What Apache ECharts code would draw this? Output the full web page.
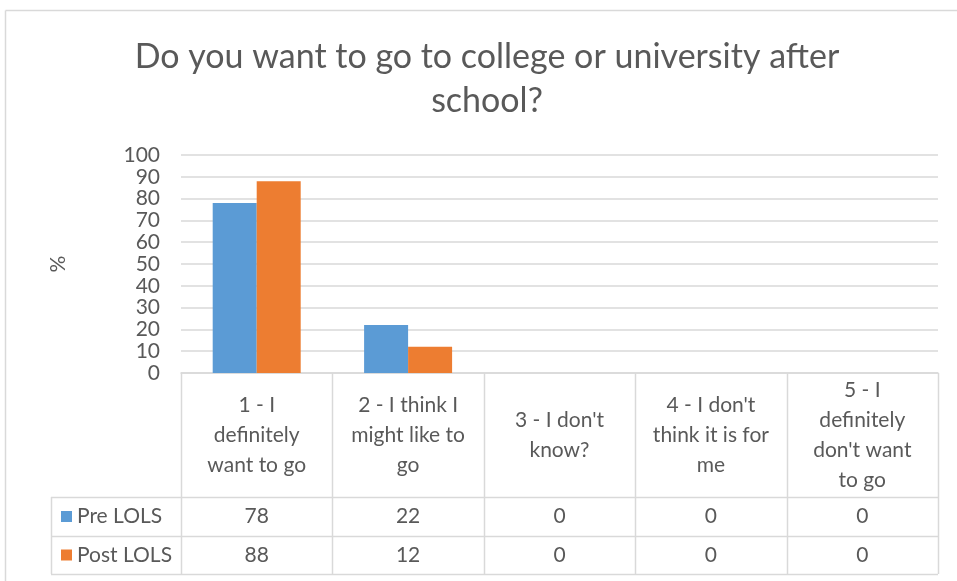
<!DOCTYPE html>
<html>
<head>
<meta charset="utf-8">
<script src="https://cdn.jsdelivr.net/npm/echarts@6/dist/echarts.min.js"></script>
<style>
html,body{margin:0;padding:0;background:#fff;}
#c{width:957px;height:581px;}
</style>
</head>
<body>
<div id="c"></div>
<script>
var titleText = 'Do you want to go to college or university after\nschool?';
var categories = ['1 - I\ndefinitely\nwant to go', '2 - I think I\nmight like to\ngo', '3 - I don\'t\nknow?', '4 - I don\'t\nthink it is for\nme', '5 - I\ndefinitely\ndon\'t want\nto go'];
var seriesNames = ['Pre LOLS', 'Post LOLS'];
var preValues = [78, 22, 0, 0, 0];
var postValues = [88, 12, 0, 0, 0];
var yTicks = {min: 0, max: 100, interval: 10};
var yName = '%';

var FONT = 'Lato';
var TXT = '#595959';
var LINE = '#d9d9d9';
var FS = 21;
var W = 957, H = 581;
var gL = 181, gR = 938, gT = 155, gB = 373;
var tHead = 497, tRow1 = 536, tRow2 = 574, tLeft = 51;

var chart = echarts.init(document.getElementById('c'), null, {renderer: 'canvas'});

function tableGraphics() {
  var els = [];
  var n = categories.length;
  var cw = (gR - gL) / n;
  function line(x1, y1, x2, y2) {
    els.push({type: 'line', silent: true, shape: {x1: x1, y1: y1, x2: x2, y2: y2}, style: {stroke: LINE, lineWidth: 1.5}});
  }
  for (var i = 0; i <= n; i++) {
    var x = Math.round(gL + i * cw) + 0.5;
    line(x, gB, x, tRow2);
  }
  line(tLeft + 0.5, tHead, tLeft + 0.5, tRow2);
  [tHead, tRow1, tRow2].forEach(function (y) { line(tLeft, y + 0.5, gR, y + 0.5); });
  // chart frame
  line(5.5, 10.5, W, 10.5);
  line(5.5, 10.5, 5.5, H);
  return els;
}

var labelBase = {fontFamily: FONT, fontSize: FS, color: TXT};

chart.setOption({
  animation: false,
  backgroundColor: '#fff',
  title: {
    text: titleText,
    left: 487, top: 35, textAlign: 'center', padding: 0,
    textStyle: {fontFamily: FONT, fontSize: 34, fontWeight: 'normal', color: TXT, lineHeight: 44}
  },
  legend: [
    {data: [seriesNames[0]], left: 61, top: 506, padding: 0, itemWidth: 11, itemHeight: 11, icon: 'rect',
     textStyle: {fontFamily: FONT, fontSize: FS, color: TXT, lineHeight: 21}, selectedMode: false},
    {data: [seriesNames[1]], left: 61, top: 544.5, padding: 0, itemWidth: 11, itemHeight: 11, icon: 'rect',
     textStyle: {fontFamily: FONT, fontSize: FS, color: TXT, lineHeight: 21}, selectedMode: false}
  ],
  grid: {left: gL, right: W - gR, top: gT, bottom: H - gB, containLabel: false},
  xAxis: [
    {type: 'category', data: categories, position: 'bottom',
     axisLine: {show: true, lineStyle: {color: LINE, width: 1.5}}, axisTick: {show: false},
     axisLabel: Object.assign({}, labelBase, {interval: 0, margin: 62, verticalAlign: 'middle', lineHeight: 30, align: 'center'})},
    {type: 'category', data: preValues.map(String), position: 'bottom',
     axisLine: {show: false}, axisTick: {show: false},
     axisLabel: Object.assign({}, labelBase, {interval: 0, margin: 143.5, verticalAlign: 'middle'})},
    {type: 'category', data: postValues.map(String), position: 'bottom',
     axisLine: {show: false}, axisTick: {show: false},
     axisLabel: Object.assign({}, labelBase, {interval: 0, margin: 182, verticalAlign: 'middle'})}
  ],
  yAxis: {
    type: 'value', min: yTicks.min, max: yTicks.max, interval: yTicks.interval,
    name: yName, nameLocation: 'middle', nameRotate: 90, nameGap: 112,
    nameTextStyle: {fontFamily: FONT, fontSize: FS, color: TXT},
    axisLine: {show: false}, axisTick: {show: false},
    axisLabel: Object.assign({}, labelBase, {margin: 21, lineHeight: 21}),
    splitLine: {lineStyle: {color: LINE, width: 1.5}}
  },
  series: [
    {name: seriesNames[0], type: 'bar', data: preValues, barWidth: 44, barGap: '0%', itemStyle: {color: '#5b9bd5'}},
    {name: seriesNames[1], type: 'bar', data: postValues, barWidth: 44, barGap: '0%', itemStyle: {color: '#ed7d31'}}
  ],
  graphic: tableGraphics()
});
</script>
</body>
</html>
